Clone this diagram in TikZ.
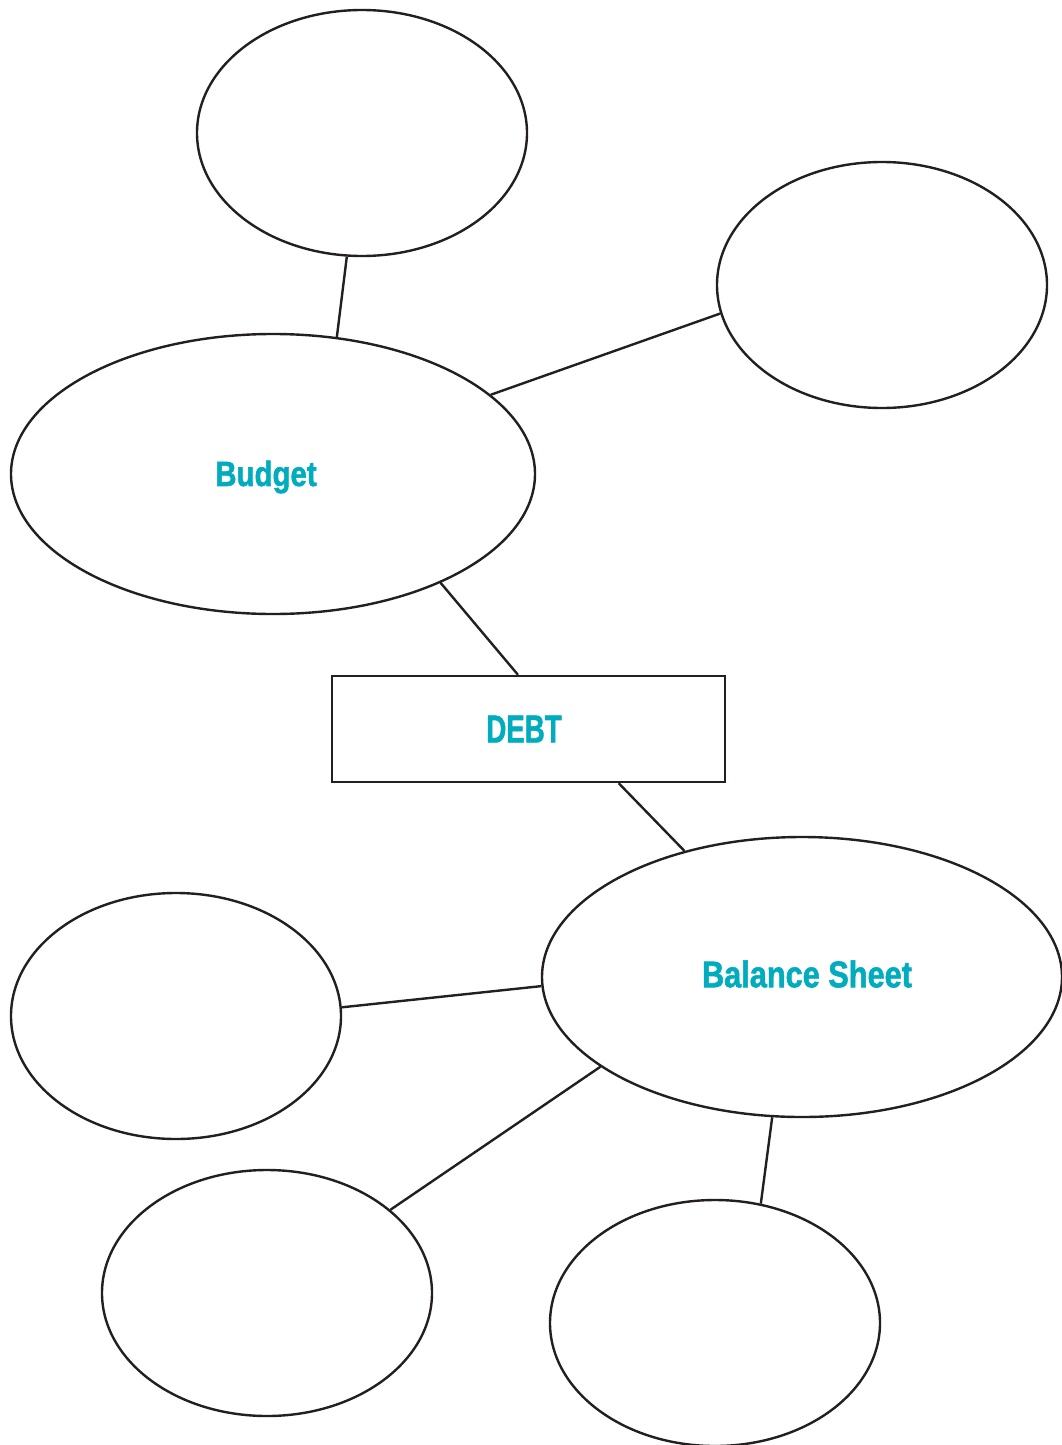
\documentclass[tikz,border=0pt]{standalone}
\usepackage{fontspec}
\setmainfont{Liberation Sans}
\newfontfamily\heavyfont{Liberation Sans}[UprightFeatures={FakeBold=1.6},BoldFeatures={FakeBold=1.6}]
\usetikzlibrary{shapes.geometric}
\definecolor{inkline}{RGB}{35,31,32}
\definecolor{tealtext}{RGB}{0,172,190}
\tikzset{
  bubble/.style={ellipse,draw=inkline,line width=2.4pt,inner sep=0pt,fill=white},
  small/.style={bubble,minimum width=330pt,minimum height=246pt},
  big/.style={bubble,minimum width=524pt,minimum height=280pt},
  centerbox/.style={rectangle,draw=inkline,line width=2.4pt,inner sep=0pt,minimum width=393pt,minimum height=106pt,fill=white},
  link/.style={draw=inkline,line width=2.4pt},
  lbl/.style={text=tealtext,font=\heavyfont\bfseries}
}
\begin{document}
\begin{tikzpicture}[x=1pt,y=-1pt]
\useasboundingbox (0,0) rectangle (1061,1445);
\node[small] (top) at (362,133) {};
\node[small] (topright) at (882,285) {};
\node[big] (budget) at (273,474) {};
\node[centerbox] (debt) at (528.5,729) {};
\node[big,minimum width=520pt] (balance) at (802,977) {};
\node[small] (left) at (176,1016) {};
\node[small] (botleft) at (267,1293) {};
\node[small] (botright) at (715,1323) {};
\node[lbl] (budgettext) at (266,477) {\fontsize{35}{40}\selectfont\scalebox{0.84}[1]{Budget}};
\node[lbl] (debttext) at (524,729) {\fontsize{39}{44}\selectfont\scalebox{0.71}[1]{DEBT}};
\node[lbl] (balancetext) at (807,974) {\fontsize{37}{42}\selectfont\scalebox{0.83}[1]{Balance Sheet}};
\draw[link] (top.-97.8) -- (budget.65.1);
\draw[link] (budget.20.6) -- (topright.190.9);
\draw[link] (budget.-33.3) -- (debt.101.2);
\draw[link] (debt.-31.5) -- (balance.133.6);
\draw[link] (left.3.5) -- (balance.182.9);
\draw[link] (botleft.34) -- (balance.204.7);
\draw[link] (balance.-102.6) -- (botright.69);
\end{tikzpicture}
\end{document}
